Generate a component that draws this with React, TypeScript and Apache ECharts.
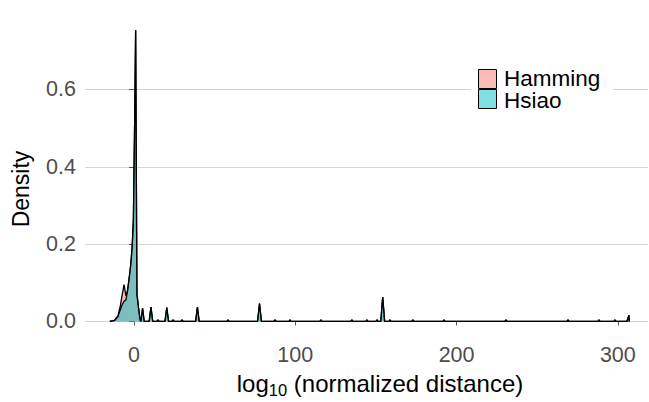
import React, { useEffect, useRef } from "react";
import * as echarts from "echarts";

// x positions (log10 normalized distance) shared by both density curves
const xs = [
  -15, -12, -10, -8.5, -7.5, -6.2, -5, -4, -3, -2, -1.2, -0.4, 0.4, 1.0, 1.8, 2.8, 3.8,
  4.3, 5.3, 6.3,
  9.4, 10.5, 11.6,
  14.3, 14.9, 15.5,
  19.2, 20.3, 21.4,
  23.6, 24.2, 24.8,
  29.2, 29.8, 30.4,
  38.2, 39.3, 40.4,
  57.7, 58.3, 58.9,
  76.6, 77.8, 79.0,
  86.8, 87.4, 88.0,
  96.1, 96.7, 97.3,
  115.3, 115.9, 116.5,
  134.5, 135.1, 135.7,
  143.8, 144.4, 145.0,
  150.1, 150.7, 151.3,
  153.0, 154.2, 155.4,
  158.1, 158.7, 159.3,
  172.3, 172.9, 173.5,
  191.6, 192.2, 192.8,
  230.0, 230.6, 231.2,
  268.5, 269.1, 269.7,
  287.7, 288.3, 288.9,
  297.6, 298.2, 298.8,
  305.6, 306.9, 307.0,
];

const hammingDensity = [
  0, 0.003, 0.014, 0.04, 0.065, 0.095, 0.066, 0.08, 0.112, 0.148, 0.19, 0.26, 0.52, 0.753, 0.07, 0.035, 0.003,
  0, 0.034, 0,
  0, 0.037, 0,
  0, 0.004, 0,
  0, 0.036, 0,
  0, 0.004, 0,
  0, 0.004, 0,
  0, 0.037, 0,
  0, 0.004, 0,
  0, 0.046, 0,
  0, 0.004, 0,
  0, 0.004, 0,
  0, 0.004, 0,
  0, 0.004, 0,
  0, 0.004, 0,
  0, 0.004, 0,
  0, 0.063, 0,
  0, 0.004, 0,
  0, 0.004, 0,
  0, 0.004, 0,
  0, 0.004, 0,
  0, 0.004, 0,
  0, 0.004, 0,
  0, 0.004, 0,
  0, 0.016, 0,
];

const hsiaoDensity = [
  0, 0.003, 0.012, 0.03, 0.042, 0.052, 0.056, 0.08, 0.112, 0.148, 0.19, 0.26, 0.52, 0.753, 0.07, 0.035, 0.003,
  0, 0.034, 0,
  0, 0.037, 0,
  0, 0.004, 0,
  0, 0.036, 0,
  0, 0.004, 0,
  0, 0.004, 0,
  0, 0.037, 0,
  0, 0.004, 0,
  0, 0.046, 0,
  0, 0.004, 0,
  0, 0.004, 0,
  0, 0.004, 0,
  0, 0.004, 0,
  0, 0.004, 0,
  0, 0.004, 0,
  0, 0.063, 0,
  0, 0.004, 0,
  0, 0.004, 0,
  0, 0.004, 0,
  0, 0.004, 0,
  0, 0.004, 0,
  0, 0.004, 0,
  0, 0.004, 0,
  0, 0.016, 0,
];

const seriesNames = ["Hamming", "Hsiao"];
const xTicks = [0, 100, 200, 300];
const yTicks = [0, 0.2, 0.4, 0.6];
const xTitle = "{a|log}{b|10}{a| (normalized distance)}";
const yTitle = "Density";

const FONT = "Liberation Sans, Arial, Helvetica, sans-serif";
const fills = ["rgba(248,118,109,0.5)", "rgba(0,191,196,0.5)"];

export default function App() {
  const ref = useRef<HTMLDivElement>(null);
  useEffect(() => {
    const chart = echarts.init(ref.current!, null, { renderer: "svg" });
    const curves = [hammingDensity, hsiaoDensity];
    chart.setOption({
      animation: false,
      backgroundColor: "#ffffff",
      textStyle: { fontFamily: FONT },
      grid: { left: 85, right: 1, top: 16, bottom: 66 },
      xAxis: {
        type: "value",
        min: -30.4,
        max: 318.7,
        axisLine: { show: false },
        axisTick: { show: true, length: 4, customValues: xTicks, lineStyle: { color: "#555555" } },
        axisLabel: { customValues: xTicks, fontSize: 21.5, color: "#4D4D4D", margin: 8, fontFamily: FONT },
        splitLine: { show: false },
      },
      yAxis: {
        type: "value",
        min: -0.0377,
        max: 0.79,
        axisLine: { show: false },
        axisTick: { show: true, length: 5, customValues: yTicks, lineStyle: { color: "#555555" } },
        axisLabel: {
          customValues: yTicks,
          fontSize: 21.5,
          color: "#4D4D4D",
          margin: 9,
          fontFamily: FONT,
          formatter: (v: number) => v.toFixed(1),
        },
        splitLine: { show: true, lineStyle: { color: "#D4D4D4", width: 1 } },
      },
      series: seriesNames.map((name, i) => ({
        name,
        type: "line",
        data: xs.map((x, j) => [x, curves[i][j]]),
        showSymbol: false,
        symbol: "none",
        lineStyle: { color: "#000000", width: 1.3 },
        itemStyle: { color: "#000000" },
        areaStyle: { color: fills[i], opacity: 1 },
        z: 2 + i,
      })),
      graphic: [
        {
          type: "text",
          x: 380,
          y: 383,
          style: {
            text: xTitle,
            align: "center",
            verticalAlign: "middle",
            rich: {
              a: { fontSize: 24, fill: "#000000", fontFamily: FONT, lineHeight: 30, verticalAlign: "middle" },
              b: { fontSize: 16.5, fill: "#000000", fontFamily: FONT, lineHeight: 30, verticalAlign: "bottom" },
            },
          },
          z: 11,
        },
        {
          type: "text",
          x: 21,
          y: 189,
          rotation: Math.PI / 2,
          style: {
            text: yTitle,
            fontSize: 23,
            fontFamily: FONT,
            fill: "#000000",
            align: "center",
            verticalAlign: "middle",
          },
          z: 11,
        },
        { type: "rect", shape: { x: 471, y: 62, width: 142, height: 54 }, style: { fill: "#ffffff" }, z: 10 },
        {
          type: "rect",
          shape: { x: 478.5, y: 69.5, width: 18, height: 19 },
          style: { fill: fills[0], stroke: "#000000", lineWidth: 1 },
          z: 11,
        },
        {
          type: "rect",
          shape: { x: 478.5, y: 89.5, width: 18, height: 19 },
          style: { fill: fills[1], stroke: "#000000", lineWidth: 1 },
          z: 11,
        },
        {
          type: "text",
          x: 504,
          y: 78.5,
          style: {
            text: seriesNames[0],
            fontSize: 22.5,
            fontFamily: FONT,
            lineHeight: 20,
            fill: "#000000",
            verticalAlign: "middle",
          },
          z: 11,
        },
        {
          type: "text",
          x: 504,
          y: 100.5,
          style: {
            text: seriesNames[1],
            fontSize: 22.5,
            fontFamily: FONT,
            lineHeight: 20,
            fill: "#000000",
            verticalAlign: "middle",
          },
          z: 11,
        },
      ],
    });
    return () => chart.dispose();
  }, []);
  return <div ref={ref} style={{ position: "absolute", left: 0, top: 0, width: 649, height: 402 }} />;
}
